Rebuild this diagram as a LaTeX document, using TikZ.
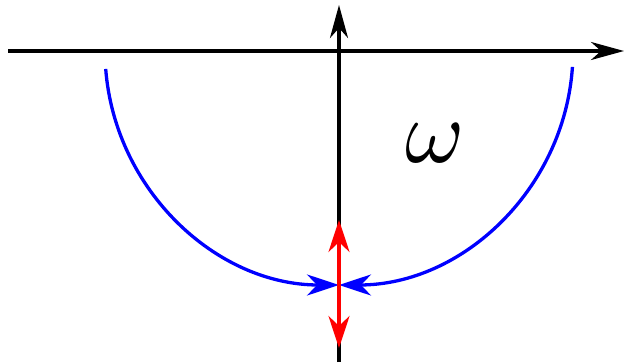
\documentclass[tikz,border=0pt]{standalone}
\usetikzlibrary{arrows.meta}
\tikzset{
  axis/.style={line width=3.3pt,black,-{Stealth[length=33pt,width=18pt,inset=10pt]}},
  flow/.style={line width=3.3pt,blue,-{Stealth[length=32pt,width=21pt,inset=10pt]}},
  spread/.style={line width=3.3pt,red,{Stealth[length=32pt,width=21pt,inset=10pt]}-{Stealth[length=32pt,width=21pt,inset=10pt]}}
}
\begin{document}
\begin{tikzpicture}[x=1pt,y=1pt]
\useasboundingbox (0,0) rectangle (626,362);
\coordinate (O) at (339,311);
\coordinate (P) at (339,77);
\coordinate (W) at (8,311);
\coordinate (E) at (624,311);
\coordinate (N) at (339,357);
\coordinate (S) at (339,0);
\coordinate (RT) at (339,142);
\coordinate (RB) at (339,14);
\draw[axis] (W) -- (E);
\draw[axis] (S) -- (N);
\draw[flow] (O) ++(184.4:234) arc[start angle=184.4,end angle=270,radius=234];
\draw[flow] (O) ++(-3.9:234) arc[start angle=-3.9,end angle=-90,radius=234];
\draw[spread] (RB) -- (RT);
\node[scale=9,inner sep=0pt] (om) at (435,219) {$\omega$};
\end{tikzpicture}
\end{document}
